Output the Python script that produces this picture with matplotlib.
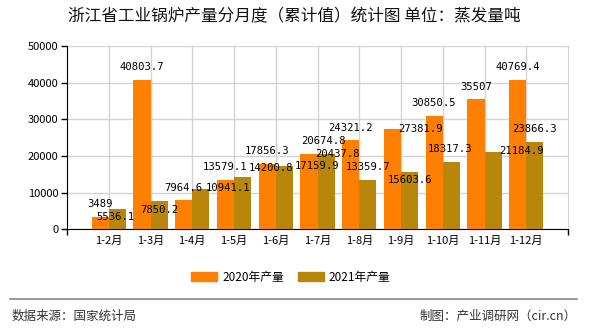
import numpy as np
import matplotlib.pyplot as plt
from matplotlib.patches import Patch
from matplotlib.lines import Line2D

plt.rcParams['font.family'] = ['Noto Sans CJK SC', 'DejaVu Sans']

# datos
meses = ['1-2月', '1-3月', '1-4月', '1-5月', '1-6月', '1-7月', '1-8月', '1-9月', '1-10月', '1-11月', '1-12月']
prod_2020 = [3489, 40803.7, 7964.6, 13579.1, 17856.3, 20674.8, 24321.2, 27381.9, 30850.5, 35507, 40769.4]
prod_2021 = [5536.1, 7850.2, 10941.1, 14200.8, 17159.9, 20437.8, 13359.7, 15603.6, 18317.3, 21184.9, 23866.3]
etiquetas_2020 = ['3489', '40803.7', '7964.6', '13579.1', '17856.3', '20674.8', '24321.2', '27381.9', '30850.5', '35507', '40769.4']
etiquetas_2021 = ['5536.1', '7850.2', '10941.1', '14200.8', '17159.9', '20437.8', '13359.7', '15603.6', '18317.3', '21184.9', '23866.3']

# desplazamiento de etiquetas en pixeles (dx, dy)
desp_2020 = [(0, 13), (0, 13), (0, 12), (0, 13), (0, 13), (15, 13), (0, 12), (28, 0), (-1, 13), (0, 12), (0, 13)]
desp_2021 = [(-2, -8), (0, -9), (27, 1), (28, 9), (33, 0), (11, 0), (0, 13), (0, -8), (-1, 13), (28, 1), (0, 13)]

naranja = '#FF8000'
dorado = '#B8860B'

fig = plt.figure(figsize=(5.9, 3.3), dpi=100)
ax = fig.add_axes([67/590, 1-229.3/330, (568-67)/590, (229.3-46)/330])

x = np.arange(1, len(meses)+1)
w = 0.41
ax.bar(x - w/2, prod_2020, w, color=naranja, zorder=3)
ax.bar(x + w/2, prod_2021, w, color=dorado, zorder=3)

px = 72/100  # pixel a puntos
for i in range(len(meses)):
    dx, dy = desp_2020[i]
    ax.annotate(etiquetas_2020[i], (x[i]-w/2, prod_2020[i]), xytext=(dx*px, dy*px),
                textcoords='offset points', ha='center', va='center',
                fontsize=7.6, family='DejaVu Sans Mono', color='black', zorder=5)
    dx, dy = desp_2021[i]
    ax.annotate(etiquetas_2021[i], (x[i]+w/2, prod_2021[i]), xytext=(dx*px, dy*px),
                textcoords='offset points', ha='center', va='center',
                fontsize=7.6, family='DejaVu Sans Mono', color='black', zorder=5)

ax.set_xlim(0, 12)
ax.set_ylim(0, 50000)
ax.set_yticks(np.arange(0, 50001, 10000))
ax.set_xticks(x)
ax.set_xticklabels(meses, fontsize=8)
ax.set_xticks([0, 12], minor=True)
ax.tick_params(axis='x', which='major', length=0, pad=5)
ax.tick_params(axis='x', which='minor', length=4, width=1, color='black')
ax.tick_params(axis='y', length=4, width=1, labelsize=8, pad=2)
ax.grid(True, color='#D3D3D3', linewidth=1, zorder=0)
ax.spines['top'].set_visible(False)
ax.spines['right'].set_color('#D3D3D3')
ax.spines['left'].set_color('black')
ax.spines['bottom'].set_color('black')

fig.text(68/590, 1-17/330, '浙江省工业锅炉产量分月度（累计值）统计图 单位：蒸发量吨',
         fontsize=12, va='center', ha='left', color='#111111')

# leyenda
manejadores = [Patch(color=naranja), Patch(color=dorado)]
fig.legend(manejadores, ['2020年产量', '2021年产量'], loc='center',
           bbox_to_anchor=(291/590, 1-277/330), ncol=2, frameon=False,
           fontsize=8.5, handlelength=2.2, handleheight=0.9,
           handletextpad=0.4, columnspacing=1.2)

fig.add_artist(Line2D([10/590, 577/590], [1-298.5/330, 1-298.5/330],
                      color='#888888', linewidth=1.2))
fig.text(12/590, 1-316/330, '数据来源：国家统计局', fontsize=9, va='center', ha='left', color='#333333')
fig.text(577/590, 1-316/330, '制图：产业调研网（cir.cn）', fontsize=9, va='center', ha='right', color='#333333')

fig.savefig('out.png', dpi=100)
